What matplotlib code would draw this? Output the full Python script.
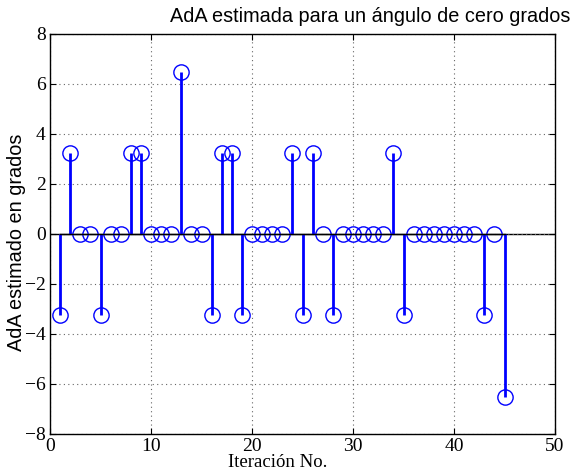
import matplotlib
matplotlib.use("Agg")
import matplotlib.pyplot as plt

iteraciones = list(range(1, 46))
ada = [-3.25, 3.25, 0, 0, -3.25, 0, 0, 3.25, 3.25, 0,
       0, 0, 6.5, 0, 0, -3.25, 3.25, 3.25, -3.25, 0,
       0, 0, 0, 3.25, -3.25, 3.25, 0, -3.25, 0, 0,
       0, 0, 0, 3.25, -3.25, 0, 0, 0, 0, 0,
       0, 0, -3.25, 0, -6.5]
xticks = [0, 10, 20, 30, 40, 50]
yticks = [-8, -6, -4, -2, 0, 2, 4, 6, 8]

fig = plt.figure(figsize=(5.73, 4.74), dpi=100)
ax = fig.add_axes([50/573, 1-434/474, 505/573, 400/474])

ml, sl, bl = ax.stem(iteraciones, ada, basefmt='k-')
plt.setp(sl, color='#0000ff', linewidth=2)
plt.setp(ml, marker='o', markersize=11, markerfacecolor='none',
         markeredgecolor='#0000ff', markeredgewidth=1.0)
plt.setp(bl, color='black', linewidth=1.0)
ax.axhline(0, color='black', linewidth=1.0, zorder=1)

ax.set_xlim(0, 50)
ax.set_ylim(-8, 8)
ax.set_xticks(xticks)
ax.set_yticks(yticks)
ax.grid(True, linestyle=(0, (1, 3)), color='#666666', linewidth=0.8)
ax.tick_params(direction='in', top=True, right=True, length=4, labelsize=14, pad=3)
for lab in ax.get_xticklabels() + ax.get_yticklabels():
    lab.set_family('Liberation Serif')
for s in ax.spines.values():
    s.set_linewidth(1.0)

ax.text(0.634, 1.03, 'AdA estimada para un ángulo de cero grados',
        transform=ax.transAxes, ha='center', va='baseline',
        fontsize=14.3, family='Liberation Sans')
ax.set_ylabel('AdA estimado en grados', fontsize=14.3, family='Liberation Sans')
ax.yaxis.set_label_coords(-0.047, 0.48)
ax.set_xlabel('Iteración No.', fontsize=13.5, family='Liberation Serif')
ax.xaxis.set_label_coords(0.45, -0.05)
ax.xaxis.label.set_va('top')

fig.savefig('out.png', dpi=100)
